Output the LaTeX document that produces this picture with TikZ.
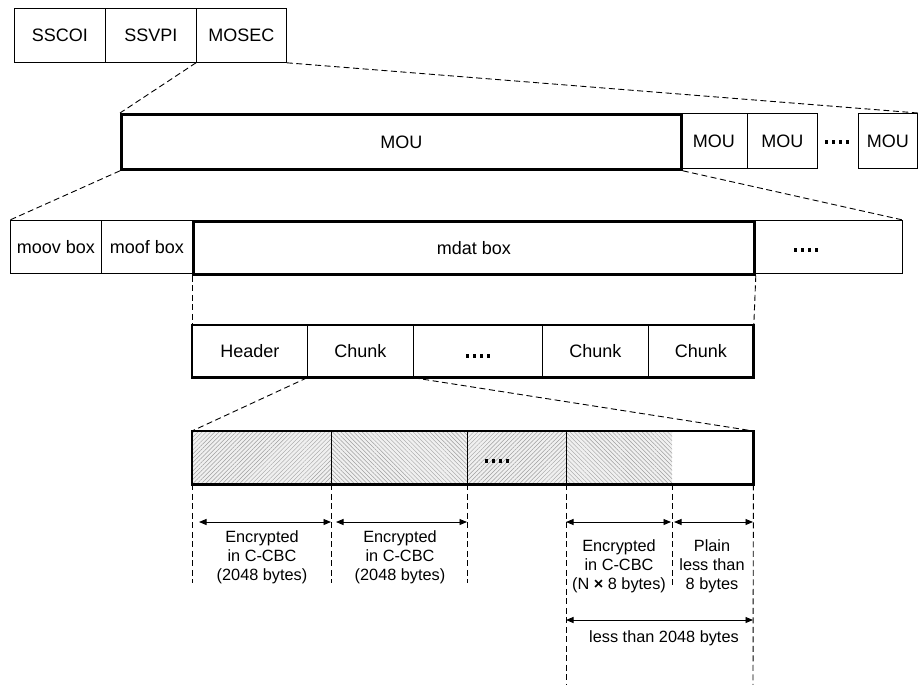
\documentclass[tikz,border=0pt]{standalone}
\usepackage{fontspec}
\setmainfont{Liberation Sans}
\usetikzlibrary{arrows.meta,patterns.meta}
\newcommand{\mydots}{\rule{3.3pt}{3.3pt}\kern3.6pt\rule{3.3pt}{3.3pt}\kern3.6pt\rule{3.3pt}{3.3pt}\kern3.6pt\rule{3.3pt}{3.3pt}}
\begin{document}
\begin{tikzpicture}[x=1pt,y=-1pt,
  box/.style={draw, line width=0.8pt, inner sep=0pt, anchor=north west, font=\fontsize{18}{21}\selectfont},
  thickbox/.style={box, line width=2.8pt},
  seg/.style={anchor=north west, inner sep=0pt, minimum height=53pt},
  hatchA/.style={preaction={fill=gray!12}, pattern={Lines[angle=45,distance=3pt,line width=0.45pt]}, pattern color=gray!75},
  hatchB/.style={preaction={fill=gray!12}, pattern={Lines[angle=-45,distance=3pt,line width=0.45pt]}, pattern color=gray!75},
  conn/.style={dash pattern=on 6pt off 3.5pt, line width=0.9pt},
  thinline/.style={line width=0.8pt},
  thickline/.style={line width=2.8pt},
  dim/.style={line width=0.9pt, {Triangle[length=7.5pt,width=6pt]}-{Triangle[length=7.5pt,width=6pt]}},
  dotlabel/.style={inner sep=0pt},
  small/.style={inner sep=0pt, align=center, font=\fontsize{16.3}{18.8}\selectfont}
]
\useasboundingbox (0,0) rectangle (918,685);

% Row 1
\node[box, minimum width=91pt, minimum height=54pt] (sscoi) at (14,8) {SSCOI};
\node[box, minimum width=91pt, minimum height=54pt] (ssvpi) at (105,8) {SSVPI};
\node[box, minimum width=90pt, minimum height=54pt] (mosec) at (196,8) {MOSEC};

% Row 2
\node[box, minimum width=67pt, minimum height=55pt] (mou1) at (680,113) {MOU};
\node[box, minimum width=70pt, minimum height=55pt] (mou2) at (747,113) {MOU};
\node[dotlabel] (moudots) at (837,142) {\mydots};
\node[box, minimum width=59pt, minimum height=55pt] (mou3) at (858,113) {MOU};
\node[thickbox, minimum width=560pt, minimum height=55pt] (moubig) at (120,113) {MOU};

% Row 3
\node[box, minimum width=91pt, minimum height=53pt] (moov) at (10,220) {moov box};
\node[box, minimum width=91pt, minimum height=53pt] (moof) at (101,220) {moof box};
\node[box, minimum width=149pt, minimum height=53pt] (restbox) at (753,220) {};
\node[dotlabel] (restdots) at (806,250) {\mydots};
\node[thickbox, minimum width=561pt, minimum height=53pt] (mdat) at (192,220) {mdat box};

% Row 4
\node[box, minimum width=115pt, minimum height=52pt] (header) at (192,325) {Header};
\node[box, minimum width=106pt, minimum height=52pt] (chunka) at (307,325) {Chunk};
\node[box, minimum width=129pt, minimum height=52pt] (chunkdots) at (413,325) {};
\node[dotlabel] (cdots) at (478,356) {\mydots};
\node[box, minimum width=106pt, minimum height=52pt] (chunkb) at (542,325) {Chunk};
\node[box, minimum width=105pt, minimum height=52pt] (chunkc) at (648,325) {Chunk};
\draw[thickline] (header.north west) rectangle (chunkc.south east);

% Row 5
\node[seg, hatchA, minimum width=139pt] (seg1) at (192,431) {};
\node[seg, hatchB, minimum width=136pt] (seg2) at (331,431) {};
\node[seg, hatchA, minimum width=99pt] (seg3) at (467,431) {};
\node[seg, hatchB, minimum width=106pt] (seg4) at (566,431) {};
\node[seg, minimum width=81pt] (plain) at (672,431) {};
\node[dotlabel] (sdots) at (497,461) {\mydots};
\draw[thinline] (seg1.north east) -- (seg1.south east);
\draw[thinline] (seg2.north east) -- (seg2.south east);
\draw[thinline] (seg3.north east) -- (seg3.south east);
\draw[thickline] (seg1.north west) rectangle (plain.south east);

% Zoom connectors
\draw[conn] (mosec.south west) -- (moubig.north west);
\draw[conn] (mosec.south east) -- (mou3.north east);
\draw[conn] (moubig.south west) -- (moov.north west);
\draw[conn] (moubig.south east) -- (restbox.north east);
\draw[conn] (mdat.south west) -- (header.north west);
\draw[conn] (mdat.south east) -- (chunkc.north east);
\draw[conn] (chunka.south west) -- (seg1.north west);
\draw[conn] (chunka.south east) -- (plain.north east);

% Vertical guide lines
\coordinate (g1) at (192,583);
\coordinate (g2) at (331,583);
\coordinate (g3) at (467,583);
\coordinate (g4) at (566,685);
\coordinate (g5) at (672,588);
\coordinate (g6) at (753,685);
\draw[conn] (seg1.south west) -- (g1);
\draw[conn] (seg2.south west) -- (g2);
\draw[conn] (seg3.south west) -- (g3);
\draw[conn] (seg4.south west) -- (g4);
\draw[conn] (plain.south west) -- (g5);
\draw[conn] (plain.south east) -- (g6);

% Dimension arrows
\coordinate (a1l) at (199,522); \coordinate (a1r) at (331,522);
\coordinate (a2l) at (336,522); \coordinate (a2r) at (467,522);
\coordinate (a3l) at (566,522); \coordinate (a3r) at (671,522);
\coordinate (a4l) at (674,522); \coordinate (a4r) at (753,522);
\coordinate (a5l) at (566,620); \coordinate (a5r) at (753,620);
\draw[dim] (a1l) -- (a1r);
\draw[dim] (a2l) -- (a2r);
\draw[dim] (a3l) -- (a3r);
\draw[dim] (a4l) -- (a4r);
\draw[dim] (a5l) -- (a5r);

% Labels
\node[small] (l1) at (262,557) {Encrypted\\in C-CBC\\(2048 bytes)};
\node[small] (l2) at (400,557) {Encrypted\\in C-CBC\\(2048 bytes)};
\node[small] (l3) at (619,566) {Encrypted\\in C-CBC\\(N \textbf{×} 8 bytes)};
\node[small] (l4) at (712,566) {Plain\\less than\\8 bytes};
\node[small] (l5) at (664,638) {less than 2048 bytes};
\end{tikzpicture}
\end{document}
